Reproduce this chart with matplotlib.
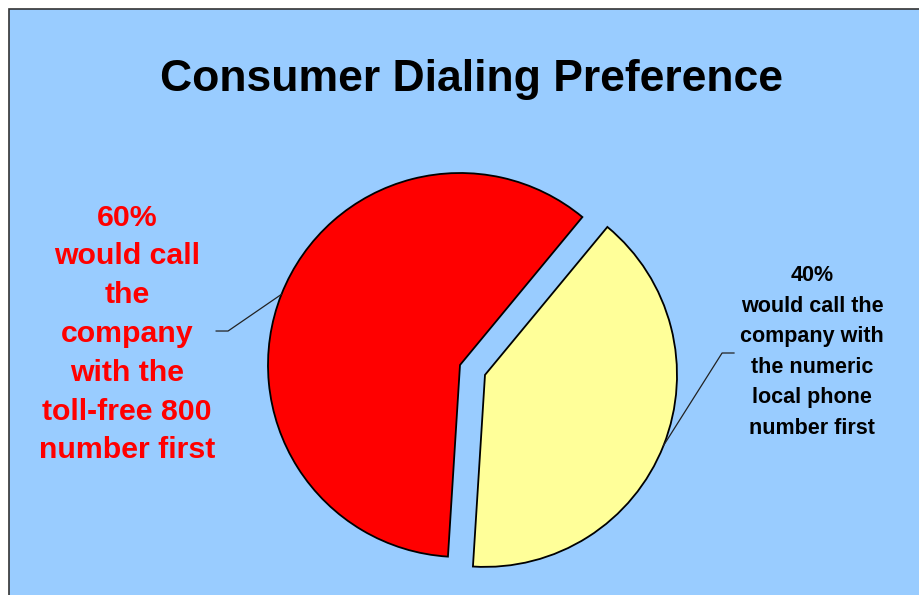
import numpy as np
import matplotlib
matplotlib.use("Agg")
import matplotlib.pyplot as plt
from matplotlib.patches import Rectangle

# dados
categorias = ["toll-free 800", "numeric local"]
valores = [60, 40]
cores = ["#FF0000", "#FFFF99"]
explode = [0, 0.14]
rotulos = ["60%\nwould call\nthe\ncompany\nwith the\ntoll-free 800\nnumber first",
           "40%\nwould call the\ncompany with\nthe numeric\nlocal phone\nnumber first"]
titulo = "Consumer Dialing Preference"

W, H = 920, 595
FONTE = "Liberation Sans"

fig = plt.figure(figsize=(W / 100, H / 100), dpi=100, facecolor="white")
fig.patches.append(Rectangle((9 / W, -0.1), 1.2, 1 - 9 / H + 0.1, transform=fig.transFigure,
                             fc="#99CCFF", ec="#333333", lw=1.2, zorder=-1))

# centro da pizza em (460, 365) px, raio 192 px
R = 192
cx, cy = 460, H - 365
ax = fig.add_axes([(cx - 1.2 * R) / W, (cy - 1.2 * R) / H, 2.4 * R / W, 2.4 * R / H])
wedges, _ = ax.pie(valores, colors=cores, explode=explode, startangle=50.4,
                   counterclock=True, wedgeprops=dict(ec="black", lw=1.3))
ax.set_xlim(-1.2, 1.2); ax.set_ylim(-1.2, 1.2); ax.axis("off")
for w in wedges:
    w.set_clip_on(False)

# linhas de chamada a partir do meio de cada fatia
for i, (w, ex) in enumerate(zip(wedges, explode)):
    ang = np.deg2rad((w.theta1 + w.theta2) / 2)
    ox, oy = ex * np.cos(ang), ex * np.sin(ang)
    px, py = ox + np.cos(ang), oy + np.sin(ang)
    if i == 0:
        cot, fim = (-1.208, 0.177), -1.27
    else:
        cot, fim = (1.365, 0.0625), 1.427
    ax.plot([px, cot[0], fim], [py, cot[1], cot[1]], color="#222222", lw=0.9, clip_on=False)

fig.text(472 / W, 1 - 80 / H, titulo, ha="center", va="center", fontsize=32,
         fontweight="bold", family=FONTE)
fig.text(127 / W, 1 - 334 / H, rotulos[0], ha="center", va="center", fontsize=21.8,
         fontweight="bold", color="#FF0000", family=FONTE, linespacing=1.49)
fig.text(812 / W, 1 - 352 / H, rotulos[1], ha="center", va="center", fontsize=15.5,
         fontweight="bold", color="black", family=FONTE, linespacing=1.6)

fig.savefig("out.png", dpi=100)
